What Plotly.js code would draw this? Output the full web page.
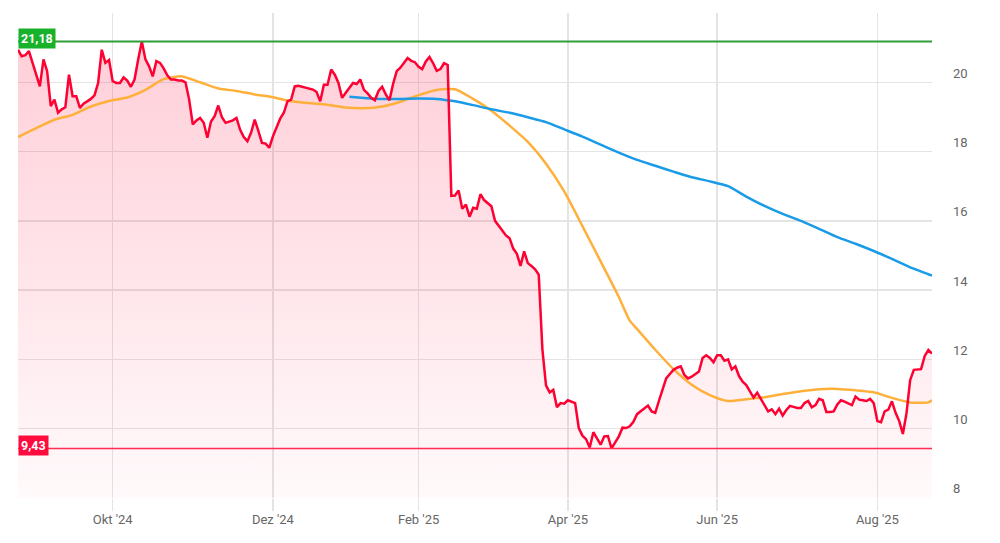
<!DOCTYPE html>
<html>
<head>
<meta charset="utf-8">
<script src="https://cdn.plot.ly/plotly-3.0.1.min.js"></script>
<style>
  html, body { margin: 0; padding: 0; background: #ffffff; }
  #chart { width: 1000px; height: 543px; }
</style>
</head>
<body>
<div id="chart"></div>
<script>
// ---------- DATA ----------
// Trading calendar (XETRA): first trading day shown and exchange holidays in the window
const firstTradingDay = '2024-08-26';
const exchangeHolidays = ['2024-12-24', '2024-12-25', '2024-12-26', '2024-12-31',
                          '2025-01-01', '2025-04-18', '2025-04-21', '2025-05-01'];

// Daily closing prices (EUR), one per trading day
const closePrices = [
  20.94, 20.75, 20.78, 20.90, 20.56, 20.20, 19.88, 20.66, 20.32, 19.31,
  19.50, 19.12, 19.22, 19.28, 20.22, 19.60, 19.60, 19.26, 19.38, 19.45,
  19.52, 19.62, 19.98, 20.94, 20.56, 20.64, 20.03, 19.98, 19.98, 20.14,
  20.05, 19.87, 20.08, 20.66, 21.18, 20.66, 20.46, 20.17, 20.61, 20.56,
  20.40, 20.20, 20.08, 20.08, 20.05, 20.05, 20.00, 19.50, 18.78, 18.90,
  18.97, 18.83, 18.40, 18.87, 19.02, 19.33, 18.99, 18.83, 18.87, 18.90,
  18.97, 18.63, 18.42, 18.30, 18.54, 18.92, 18.60, 18.25, 18.23, 18.11,
  18.44, 18.70, 18.95, 19.12, 19.45, 19.50, 19.88, 19.90, 19.87, 19.84,
  19.81, 19.79, 19.72, 19.45, 19.93, 19.93, 20.37, 20.22, 19.98, 19.55,
  19.70, 19.84, 19.98, 19.95, 20.08, 19.78, 19.68, 19.55, 19.48, 19.75,
  19.87, 19.65, 19.48, 19.95, 20.32, 20.42, 20.55, 20.70, 20.62, 20.58,
  20.45, 20.38, 20.60, 20.73, 20.55, 20.33, 20.38, 20.55, 20.50, 16.72,
  16.73, 16.88, 16.35, 16.47, 16.12, 16.38, 16.35, 16.77, 16.60, 16.50,
  16.42, 16.00, 15.85, 15.72, 15.58, 15.50, 15.20, 15.05, 14.70, 15.12,
  14.78, 14.70, 14.60, 14.45, 12.30, 11.25, 11.05, 11.12, 10.62, 10.74,
  10.72, 10.82, 10.78, 10.74, 10.02, 9.80, 9.70, 9.46, 9.90, 9.70,
  9.54, 9.78, 9.79, 9.43, 9.62, 9.78, 10.03, 10.02, 10.07, 10.20,
  10.42, 10.50, 10.57, 10.67, 10.50, 10.46, 10.80, 11.10, 11.45, 11.58,
  11.70, 11.76, 11.80, 11.55, 11.45, 11.50, 11.58, 11.65, 12.04, 12.12,
  12.04, 11.92, 12.12, 12.12, 11.96, 12.00, 11.71, 11.80, 11.52, 11.36,
  11.26, 11.06, 10.90, 11.04, 10.85, 10.66, 10.50, 10.56, 10.42, 10.58,
  10.38, 10.54, 10.66, 10.63, 10.60, 10.60, 10.74, 10.80, 10.62, 10.68,
  10.86, 10.82, 10.48, 10.48, 10.50, 10.70, 10.82, 10.78, 10.72, 10.68,
  10.93, 10.84, 10.82, 10.80, 10.86, 10.74, 10.22, 10.19, 10.50, 10.55,
  10.79, 10.46, 10.22, 9.85, 10.45, 11.40, 11.70, 11.72, 11.72, 12.10,
  12.27, 12.17
];

// Short moving average (orange), read at these trading-day numbers
const shortMaDay = [0, 5, 10, 15, 20, 25, 30, 35, 40, 45, 50, 55, 60, 65, 70, 75, 80, 85, 90, 95,
  100, 105, 110, 115, 120, 125, 130, 135, 140, 145, 150, 155, 160, 165, 168, 170, 175, 180, 185, 190,
  195, 200, 205, 210, 215, 220, 225, 230, 235, 240, 245, 250, 251];
const shortMaValues = [18.42, 18.68, 18.92, 19.06, 19.30, 19.46, 19.56, 19.78, 20.09, 20.17, 20.00, 19.82,
  19.75, 19.65, 19.57, 19.45, 19.40, 19.35, 19.27, 19.25, 19.30, 19.44, 19.63, 19.78, 19.80, 19.52,
  19.18, 18.75, 18.28, 17.65, 16.85, 15.85, 14.83, 13.80, 13.12, 12.88, 12.28, 11.72, 11.27, 10.97,
  10.80, 10.85, 10.91, 11.00, 11.08, 11.14, 11.15, 11.11, 11.05, 10.89, 10.76, 10.76, 10.82];

// Long moving average (blue), read at these trading-day numbers
const longMaDay = [91, 95, 100, 105, 110, 115, 120, 125, 130, 135, 140, 145, 150, 155, 160, 165, 170,
  175, 180, 185, 190, 195, 200, 205, 210, 215, 220, 225, 230, 235, 240, 245, 250, 251];
const longMaValues = [19.58, 19.55, 19.52, 19.52, 19.53, 19.52, 19.45, 19.34, 19.22, 19.12, 18.99, 18.85,
  18.64, 18.43, 18.20, 17.97, 17.76, 17.59, 17.42, 17.26, 17.14, 17.00, 16.70, 16.43, 16.20, 16.00,
  15.77, 15.53, 15.34, 15.13, 14.90, 14.66, 14.46, 14.42];

// 52-week high / low
const high52 = 21.18;
const low52 = 9.43;

// Axis ticks
const xTickDates = ['2024-10-01', '2024-12-02', '2025-02-03', '2025-04-01', '2025-06-02', '2025-08-01'];
const xTickLabels = ["Okt '24", "Dez '24", "Feb '25", "Apr '25", "Jun '25", "Aug '25"];
const yTickValues = [8, 10, 12, 14, 16, 18, 20, 22];
const yTickLabels = ['8', '10', '12', '14', '16', '18', '20', ''];

// ---------- BUILD TRADING DATES ----------
function iso(d) {
  const m = String(d.getUTCMonth() + 1).padStart(2, '0');
  const dd = String(d.getUTCDate()).padStart(2, '0');
  return d.getUTCFullYear() + '-' + m + '-' + dd;
}
const tradingDates = [];
{
  const d = new Date(firstTradingDay + 'T00:00:00Z');
  while (tradingDates.length < closePrices.length) {
    const wd = d.getUTCDay();
    const s = iso(d);
    if (wd !== 0 && wd !== 6 && exchangeHolidays.indexOf(s) === -1) tradingDates.push(s);
    d.setUTCDate(d.getUTCDate() + 1);
  }
}
const shortMaDates = shortMaDay.map(i => tradingDates[i]);
const longMaDates = longMaDay.map(i => tradingDates[i]);

// ---------- STYLE ----------
const fontFam = 'Roboto, "Liberation Sans", sans-serif';
const gridCol = '#e4e4e4';
const redCol = '#ff0033';

const traces = [
  {
    x: tradingDates, y: closePrices, type: 'scatter', mode: 'lines',
    line: { width: 0, color: redCol },
    fill: 'tozeroy',
    fillgradient: {
      type: 'vertical', start: 8, stop: 21.2,
      colorscale: [[0, 'rgba(255,0,51,0.02)'], [1, 'rgba(255,0,51,0.19)']]
    },
    hoverinfo: 'skip'
  },
  {
    x: shortMaDates, y: shortMaValues, type: 'scatter', mode: 'lines',
    line: { color: '#ffb03b', width: 2.5, shape: 'spline', smoothing: 0.6 },
    hoverinfo: 'skip'
  },
  {
    x: longMaDates, y: longMaValues, type: 'scatter', mode: 'lines',
    line: { color: '#1a9be8', width: 2.5, shape: 'spline', smoothing: 0.6 },
    hoverinfo: 'skip'
  },
  {
    x: tradingDates, y: closePrices, type: 'scatter', mode: 'lines',
    line: { color: redCol, width: 2.5 },
    hoverinfo: 'skip'
  }
];

function fmt(v) { return v.toFixed(2).replace('.', ','); }

const layout = {
  width: 1000, height: 543,
  margin: { l: 18, r: 68, t: 13, b: 45, pad: 0 },
  paper_bgcolor: '#ffffff', plot_bgcolor: '#ffffff',
  showlegend: false,
  xaxis: {
    type: 'date',
    range: [tradingDates[0], tradingDates[tradingDates.length - 1]],
    rangebreaks: [{ bounds: ['sat', 'mon'] }, { values: exchangeHolidays }],
    tickmode: 'array', tickvals: xTickDates, ticktext: xTickLabels,
    showgrid: true, gridcolor: gridCol, gridwidth: 1.5,
    ticks: 'outside', ticklen: 12, tickcolor: gridCol, tickwidth: 1.5,
    ticklabelstandoff: -3,
    tickfont: { family: fontFam, size: 13, color: '#666666' },
    zeroline: false, showline: false, fixedrange: true
  },
  yaxis: {
    side: 'right', range: [8, 22],
    tickmode: 'array', tickvals: yTickValues, ticktext: yTickLabels,
    ticklabelposition: 'outside top', ticklabelstandoff: 20,
    showgrid: true, gridcolor: gridCol, gridwidth: 1.5,
    ticks: '', tickfont: { family: fontFam, size: 13, color: '#666666' },
    zeroline: false, showline: false, fixedrange: true
  },
  shapes: [
    { type: 'line', xref: 'paper', x0: 0, x1: 1, yref: 'y', y0: high52, y1: high52,
      line: { color: '#2e9e3a', width: 2 }, layer: 'above' },
    { type: 'line', xref: 'paper', x0: 0, x1: 1, yref: 'y', y0: low52, y1: low52,
      line: { color: '#ff2d55', width: 1.5 }, layer: 'above' }
  ],
  annotations: [
    { xref: 'paper', x: 0, xanchor: 'left', yref: 'y', y: high52, yanchor: 'middle', yshift: 3,
      text: '<b>' + fmt(high52) + '</b>', showarrow: false, bgcolor: '#17b22a', borderpad: 2,
      font: { family: fontFam, size: 12.5, color: '#ffffff' } },
    { xref: 'paper', x: 0, xanchor: 'left', yref: 'y', y: low52, yanchor: 'middle', yshift: 3,
      text: '<b>' + fmt(low52) + '</b>', showarrow: false, bgcolor: '#ff0a3c', borderpad: 2,
      font: { family: fontFam, size: 12.5, color: '#ffffff' } }
  ]
};

Plotly.newPlot('chart', traces, layout, { displayModeBar: false, staticPlot: true });
</script>
</body>
</html>
